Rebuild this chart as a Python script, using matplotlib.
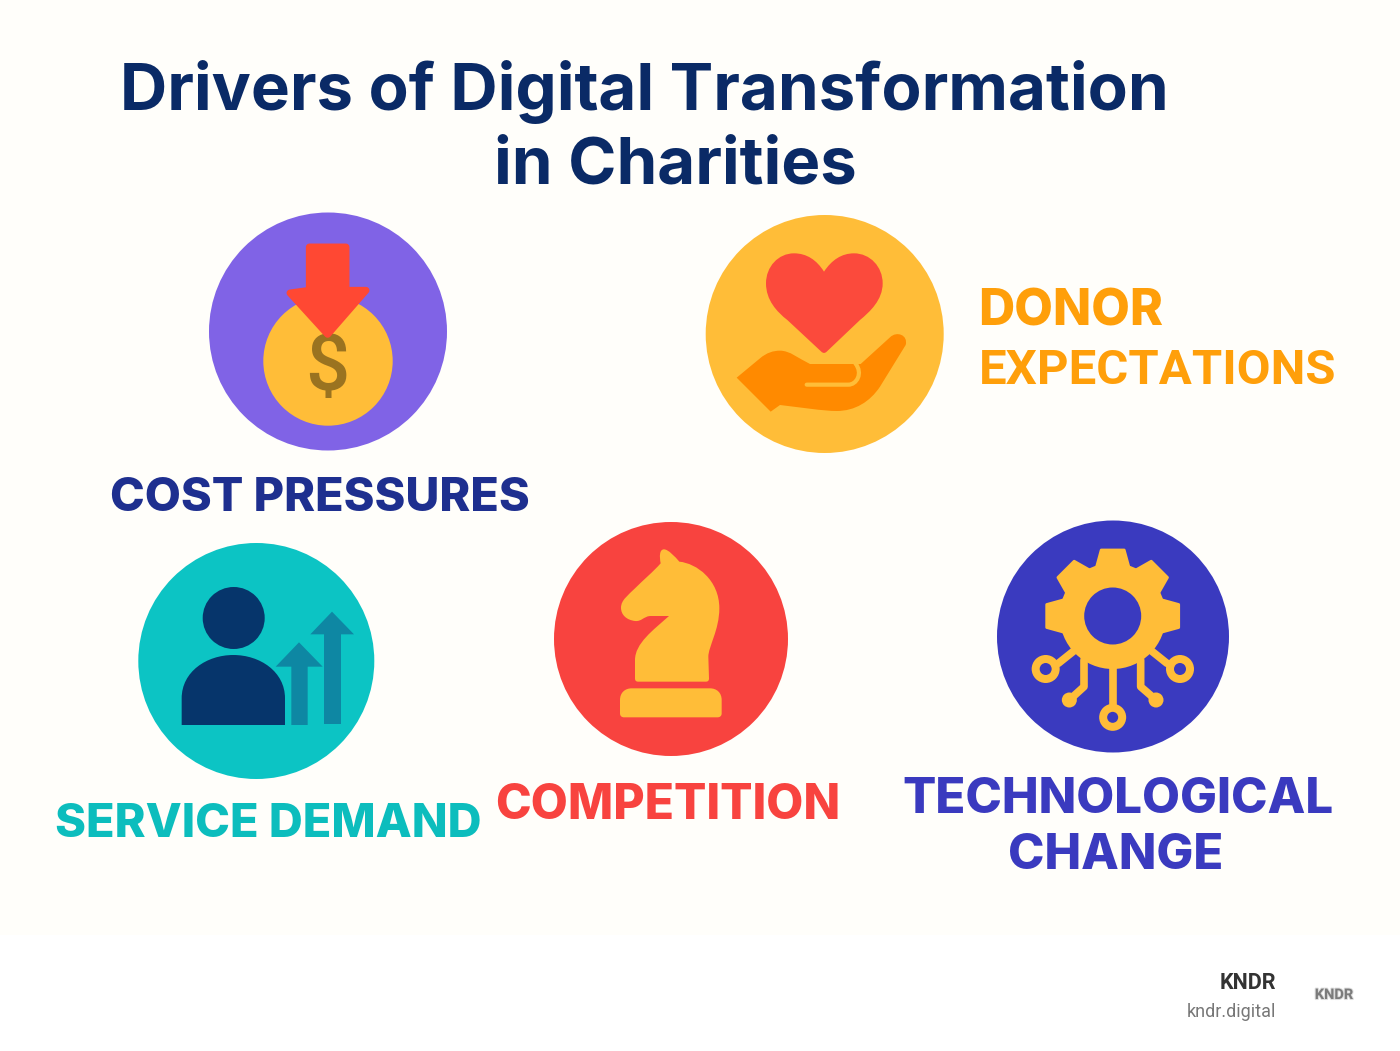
import numpy as np
import matplotlib
matplotlib.use("Agg")
import matplotlib.pyplot as plt
from matplotlib.patches import Circle, PathPatch, Polygon, Rectangle
from matplotlib.path import Path
import matplotlib.patheffects as pe

title_lines = ["Drivers of Digital Transformation", "in Charities"]
cost_label = "COST PRESSURES"
donor_label = ["DONOR", "EXPECTATIONS"]
service_label = "SERVICE DEMAND"
competition_label = "COMPETITION"
tech_label = ["TECHNOLOGICAL", "CHANGE"]
brand = ["KNDR", "kndr.digital"]

navy = "#0A2A66"
purple = "#8063E6"
yellow = "#FFBD38"
orange = "#FF8A00"
label_orange = "#FF9F0A"
red = "#F8433F"
arrow_red = "#FF4833"
teal = "#0CC4C4"
dark_blue = "#06356B"
arrow_teal = "#0E87A3"
blue = "#3A3ABF"
dollar = "#9A7320"
cost_blue = "#1E2F8F"

fig = plt.figure(figsize=(14, 10.51), dpi=100)
ax = fig.add_axes([0, 0, 1, 1])
ax.set_xlim(0, 1400)
ax.set_ylim(1051, 0)
ax.axis("off")
ax.add_patch(Rectangle((0, 0), 1400, 1051, fc="white", ec="none", zorder=0))
ax.add_patch(Rectangle((0, 0), 1400, 935, fc="#FFFEFA", ec="none", zorder=0))


def crop(pts, ox, oy):
    return [(ox + x / 3, oy + y / 3) for x, y in pts]


def shape(start, segs, ox, oy, closed=True):
    # segs: one point = line, three points = cubic
    verts = [start]
    codes = [Path.MOVETO]
    for s in segs:
        verts += s
        codes += [Path.LINETO] if len(s) == 1 else [Path.CURVE4] * 3
    verts = crop(verts, ox, oy)
    if closed:
        verts.append(verts[0])
        codes.append(Path.CLOSEPOLY)
    return Path(verts, codes)


def poly(pts, color, z=3, rounding=0.0):
    ax.add_patch(Polygon(pts, closed=True, fc=color, ec=color, lw=rounding,
                         joinstyle="round", zorder=z))


def label(x, y, s, color, size, ha="center", weight=800, family="Inter"):
    ax.text(x, y, s, color=color, fontsize=size, ha=ha, va="baseline",
            fontweight=weight, family=family, zorder=6)


# title
label(644, 110, title_lines[0], navy, 47.1, weight="bold")
label(675, 184, title_lines[1], navy, 47.1, weight="bold")

# cost pressures
ax.add_patch(Circle((328, 331.5), 119, fc=purple, ec="none", zorder=2))
ax.add_patch(Circle((328, 361), 64.7, fc=yellow, ec="none", zorder=3))
ax.text(327, 369, "$", color=dollar, fontsize=56, ha="center", va="center",
        family="Roboto", fontweight="medium", zorder=4)
poly(crop([(328, 126), (438, 126), (438, 256), (498, 256), (383, 388), (270, 264), (328, 256)],
          200, 205), arrow_red, z=5, rounding=5)
label(320, 511, cost_label, cost_blue, 33.65)

# donor expectations
ax.add_patch(Circle((824.7, 334), 119, fc=yellow, ec="none", zorder=2))
heart = shape((372, 185), [[(395, 150), (425, 130), (462, 130)],
                           [(510, 130), (548, 170), (548, 220)],
                           [(548, 270), (510, 305), (480, 330)],
                           [(380, 425)],
                           [(375, 430), (369, 430), (364, 425)],
                           [(262, 330)],
                           [(230, 305), (198, 270), (198, 220)],
                           [(198, 170), (235, 130), (282, 130)],
                           [(320, 130), (350, 150), (372, 185)]], 700, 210)
ax.add_patch(PathPatch(heart, fc="#FB4A3C", ec="none", zorder=3))
hand = shape((110, 503), [[(180, 445)],
                          [(200, 428), (220, 422), (240, 422)],
                          [(270, 422), (295, 445), (330, 462)],
                          [(482, 462)],
                          [(570, 382)],
                          [(590, 362), (625, 375), (617, 405)],
                          [(540, 530)],
                          [(510, 575), (465, 603), (410, 603)],
                          [(370, 603), (300, 592), (240, 585)],
                          [(212, 605)]], 700, 210)
ax.add_patch(PathPatch(hand, fc=orange, ec="none", zorder=3))
slit = shape((320, 524), [[(445, 524)], [(470, 524), (490, 490), (466, 460)]], 700, 210, closed=False)
ax.add_patch(PathPatch(slit, fc="none", ec=yellow, lw=3, capstyle="round", zorder=4))
label(978, 326, donor_label[0], label_orange, 36, ha="left")
label(979, 384, donor_label[1], label_orange, 35.4, ha="left", weight="bold", family="Roboto")

# service demand
ax.add_patch(Circle((256.3, 661), 118, fc=teal, ec="none", zorder=2))
ax.add_patch(Circle((233.7, 618), 31, fc=dark_blue, ec="none", zorder=4))
body = shape((155, 570), [[(155, 490)],
                          [(155, 410), (230, 360), (310, 360)],
                          [(390, 360), (465, 410), (465, 490)],
                          [(465, 570)]], 130, 535)
ax.add_patch(PathPatch(body, fc=dark_blue, ec="none", zorder=4))
poly(crop([(484, 570), (484, 395), (437, 395), (507, 322), (578, 395), (533, 395), (533, 570)], 130, 535), arrow_teal)
poly(crop([(582, 567), (582, 298), (541, 298), (606, 230), (672, 298), (633, 298), (633, 567)], 130, 535), arrow_teal)
label(268, 837, service_label, "#0CBDBD", 33.8)

# competition
ax.add_patch(Circle((671, 639), 117, fc=red, ec="none", zorder=2))
knight = shape((372, 118), [[(385, 118), (405, 140), (418, 155)],
                            [(470, 160), (538, 210), (538, 295)],
                            [(538, 360), (505, 410), (505, 440)],
                            [(507, 505)],
                            [(507, 512), (504, 515), (497, 515)],
                            [(295, 515)],
                            [(288, 515), (285, 512), (285, 505)],
                            [(285, 450)],
                            [(285, 400), (340, 360), (387, 318)],
                            [(330, 318)],
                            [(310, 320), (305, 335), (285, 333)],
                            [(260, 330), (243, 315), (243, 293)],
                            [(243, 270), (265, 255), (285, 235)],
                            [(310, 210), (340, 185), (362, 160)],
                            [(358, 140), (358, 118), (372, 118)]], 540, 510)
ax.add_patch(PathPatch(knight, fc=yellow, ec="none", zorder=3))
base = shape((240, 610), [[(240, 570)],
                          [(240, 548), (255, 535), (275, 535)],
                          [(510, 535)],
                          [(530, 535), (545, 548), (545, 570)],
                          [(545, 610)],
                          [(545, 618), (540, 622), (532, 622)],
                          [(252, 622)],
                          [(245, 622), (240, 618), (240, 610)]], 540, 510)
ax.add_patch(PathPatch(base, fc=yellow, ec="none", zorder=3))
label(668, 819, competition_label, red, 34.6)

# technological change
ax.add_patch(Circle((1113, 636.5), 116, fc=blue, ec="none", zorder=2))
gx, gy = 1112.7, 616
ax.add_patch(Circle((gx, gy), 53, fc=yellow, ec="none", zorder=3))
for deg in [0, 45, 90, 135, 180]:
    a = np.radians(deg)
    u = np.array([np.cos(a), -np.sin(a)])
    v = np.array([u[1], -u[0]])
    c = np.array([gx, gy])
    poly([c + u * 46 + v * 17, c + u * 66 + v * 11.5, c + u * 66 - v * 11.5, c + u * 46 - v * 17],
         yellow, rounding=2)
ax.add_patch(Circle((gx, gy), 28.5, fc=blue, ec="none", zorder=4))
traces = [[(398, 470), (398, 590)],
          [(235, 460), (285, 420)],
          [(561, 460), (511, 420)],
          [(268, 570), (312, 530), (312, 450)],
          [(528, 570), (482, 530), (482, 450)]]
for t in traces:
    ax.plot(*zip(*crop(t, 980, 510)), color=yellow, lw=5.5, solid_capstyle="round",
            solid_joinstyle="round", zorder=3)
for cx, cy, outer, inner in [(398, 622, 13.5, 5.5), (197, 477, 14, 6), (600, 477, 14, 6)]:
    x, y = crop([(cx, cy)], 980, 510)[0]
    ax.add_patch(Circle((x, y), outer, fc=yellow, ec="none", zorder=3))
    ax.add_patch(Circle((x, y), inner, fc=blue, ec="none", zorder=4))
for cx, cy in [(268, 570), (528, 570)]:
    ax.add_patch(Circle(crop([(cx, cy)], 980, 510)[0], 7.5, fc=yellow, ec="none", zorder=3))
label(1118, 813, tech_label[0], blue, 35.4)
label(1116, 869, tech_label[1], blue, 35.3)

# footer
label(1276, 989, brand[0], "#333333", 15.5, ha="right", weight="bold", family="Roboto")
label(1276, 1017, brand[1], "#777777", 13, ha="right", weight="normal", family="Roboto")
logo = ax.text(1334, 999, brand[0], color="#555555", fontsize=10.5, ha="center", va="baseline",
               fontweight="bold", family="Roboto", alpha=0.6, zorder=6)
logo.set_path_effects([pe.withStroke(linewidth=1.5, foreground="#aaaaaa", alpha=0.4)])

fig.savefig("out.png", dpi=100)
